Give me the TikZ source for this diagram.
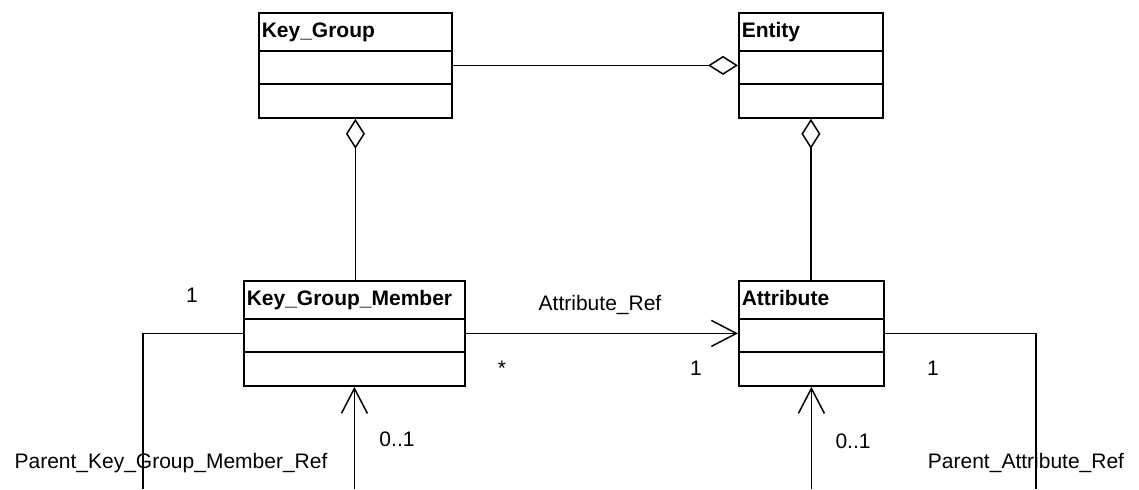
\documentclass[tikz,border=0pt]{standalone}
\usepackage{fontspec}
\setmainfont{Liberation Sans}
\usetikzlibrary{arrows.meta}

\begin{document}
\begin{tikzpicture}[x=0.5pt,y=-0.5pt,font=\fontsize{10.5}{12.6}\selectfont,line width=0.75pt]
    \tikzstyle{classbox} = [rectangle,draw=black,fill=white,anchor=north west,minimum height=52.5pt,inner sep=0pt,line width=0.9pt]
    \tikzstyle{classname} = [anchor=base west,inner sep=0pt,font=\fontsize{10.5}{12.6}\selectfont\bfseries]
    \tikzstyle{mult} = [anchor=base,inner sep=0pt]
    \tikzstyle{agg} = [{Diamond[open,length=15pt,width=9.5pt]}-]
    \tikzstyle{nav} = [-{Straight Barb[length=12.5pt,width=13pt]}]
    \useasboundingbox (0,0) rectangle (1139,489);
    % classes
    \node (kg)[classbox,minimum width=96.5pt] at (258,12) {};
    \node (ent)[classbox,minimum width=72pt] at (738,12) {};
    \node (kgm)[classbox,minimum width=110.5pt] at (243,280) {};
    \node (attr)[classbox,minimum width=72.5pt] at (738,280) {};
    \foreach \c in {kg,ent,kgm,attr}
        \foreach \d in {19.5pt,36pt}
            \draw [line width=0.9pt] ([yshift=-\d]\c.north west) -- ([yshift=-\d]\c.north east);
    \node (kg title)[classname] at ([xshift=1.5pt,yshift=-12.5pt]kg.north west) {Key\_Group};
    \node (ent title)[classname] at ([xshift=1.5pt,yshift=-12.5pt]ent.north west) {Entity};
    \node (kgm title)[classname] at ([xshift=1.5pt,yshift=-12.5pt]kgm.north west) {Key\_Group\_Member};
    \node (attr title)[classname] at ([xshift=1.5pt,yshift=-12.5pt]attr.north west) {Attribute};
    % aggregations
    \draw [agg] (ent.west) -- (kg.east);
    \draw [agg] (kg.south) -- (kg.south |- kgm.north);
    \draw [agg] (ent.south) -- (ent.south |- attr.north);
    % references
    \draw [nav] (kgm.east) -- (attr.west);
    \node (ref name)[mult] at (600,310) {Attribute\_Ref};
    \node (ref from)[mult] at (502,375) {*};
    \node (ref to)[mult] at (696,375) {1};
    % parent key group member
    \coordinate (kgm loop) at (143,489);
    \coordinate (kgm parent) at (kgm.south |- 0,489);
    \draw (kgm.west) -- (kgm.west -| kgm loop) -- (kgm loop);
    \draw [nav] (kgm parent) -- (kgm.south);
    \node (kgm one)[mult] at (192,302) {1};
    \node (kgm opt)[mult] at (397,446) {0..1};
    \node (kgm name)[mult] at (171,468) {Parent\_Key\_Group\_Member\_Ref};
    % parent attribute
    \coordinate (attr loop) at (1036,489);
    \coordinate (attr parent) at (attr.south |- 0,489);
    \draw (attr.east) -- (attr.east -| attr loop) -- (attr loop);
    \draw [nav] (attr parent) -- (attr.south);
    \node (attr one)[mult] at (933,375) {1};
    \node (attr opt)[mult] at (853,448) {0..1};
    \node (attr name)[mult] at (1026,468) {Parent\_Attribute\_Ref};
\end{tikzpicture}
\end{document}
